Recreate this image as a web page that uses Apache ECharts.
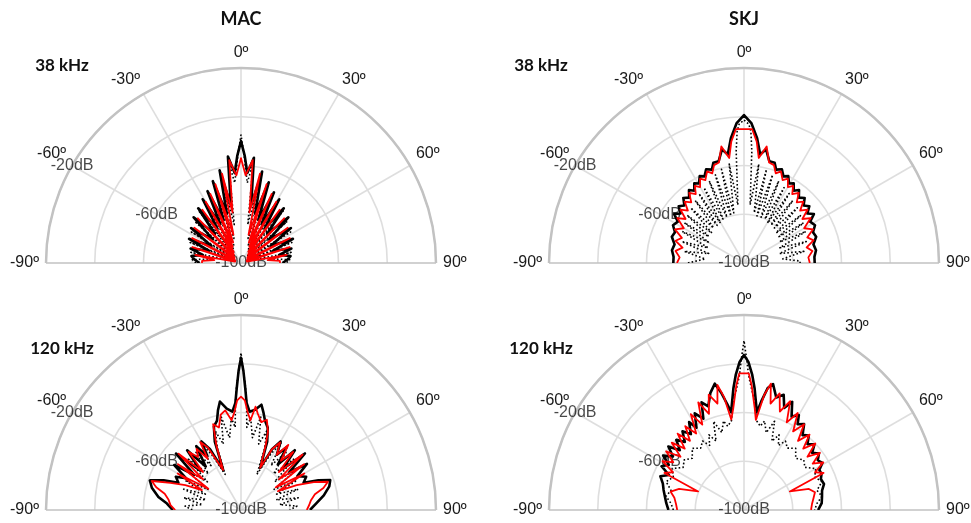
<!DOCTYPE html>
<html><head><meta charset="utf-8">
<script src="https://cdn.jsdelivr.net/npm/echarts@6/dist/echarts.min.js"></script>
<style>html,body{margin:0;padding:0;background:#fff}#c{width:971px;height:523px}</style>
</head><body><div id="c"></div>
<script>
// ---------- tick labels ----------
const angleTicks = [-90, -60, -30, 0, 30, 60, 90];
const radiusTickValues = [-20, -60, -100];
const radiusTickLabels = ['-20dB', '-60dB', '-100dB'];
const columnTitles = ['MAC', 'SKJ'];
const rowTitles = ['38 kHz', '120 kHz'];

// ---------- MAC 38 kHz ----------
const mac38BlackAng = [-90,-86,-82,-78,-74,-69,-65,-60,-55,-50,-46,-42,-38,-34.5,-31,-28,-25,-22,-19,-16,-13,-10,-7,-4,-2,0,2,4,7,10,13,16,19,22,25,28,31,34.5,38,42,46,50,55,60,65,69,74,78,82,86,90];
const mac38BlackDb  = [-83,-81,-79.5,-84,-78.5,-86,-76.5,-86,-75,-85,-73,-84,-71.5,-83,-69.5,-82,-67.5,-81,-64.5,-79,-61,-76,-56,-63,-56,-50,-56,-63,-56.5,-76,-61.5,-79,-65,-81,-68,-82,-69.5,-83,-71.5,-84,-73,-85,-75,-86,-76.5,-86,-78.5,-84,-79.5,-81,-83];
const mac38RedAng = [-90,-87,-84,-80,-76,-72,-68,-63,-58,-53,-48,-44,-40,-36,-33,-30,-27,-24,-21,-18,-15,-12,-9.5,-6.5,-3,0,3,6.5,9.5,12,15,18,21,24,27,30,33,36,40,44,48,53,58,63,68,72,76,80,84,87,90];
const mac38RedDb  = [-84,-84,-89,-81,-97.5,-79,-97.5,-77.5,-97,-76,-96.5,-74.5,-95.5,-73,-94.5,-71,-92.5,-69,-91,-66,-88,-62.5,-79,-57.5,-64,-57,-64,-57.5,-79,-62.5,-88,-66,-91,-69,-92.5,-71,-94.5,-73,-95.5,-74.5,-96.5,-76,-97,-77.5,-97.5,-79,-97.5,-81,-89,-84,-84];
const mac38DotAng = [-90,-86,-82,-78,-73,-68,-63,-58,-53,-48,-43,-39,-35,-31,-28,-25,-22,-19,-16,-13,-10,-7,-4.5,-1.5,0,1.5,4.5,7,10,13,16,19,22,25,28,31,35,39,43,48,53,58,63,68,73,78,82,86,90];
const mac38DotDb  = [-81.5,-80,-88,-79,-97,-77.5,-97,-76,-96.5,-74.5,-96,-72.5,-95,-70.5,-93.5,-68,-92,-65,-89.5,-62,-84,-58,-67,-55,-47.5,-55,-67,-58,-84,-62,-89.5,-65,-92,-68,-93.5,-70.5,-95,-72.5,-96,-74.5,-96.5,-76,-97,-77.5,-97,-79,-88,-80,-81.5];

// ---------- SKJ 38 kHz ----------
const skj38BlackAng = [-90,-85,-80,-75,-70,-66,-62,-58,-55,-52,-49,-46,-43,-40,-37,-34.5,-32,-29.5,-27,-24.5,-22,-19,-17,-14,-11,-8.5,-6,-3,0,3,6,8.5,11,14,17,19,22,24.5,27,29.5,32,34.5,37,40,43,46,49,52,55,58,62,66,70,75,80,85,90];
const skj38BlackDb  = [-71,-71,-70,-70.5,-68.5,-69,-67,-68,-65,-67,-64.5,-66,-63.5,-65,-62.5,-64,-61.5,-62.5,-60,-61,-58.5,-59.5,-57,-57,-52.5,-55,-48.5,-42.5,-39.3,-42.5,-48.5,-55,-52.5,-57,-57,-59.5,-58.5,-61,-60,-62.5,-61.5,-64,-62.5,-65,-63.5,-66,-64.5,-67,-65,-68,-67,-69,-68.5,-70.5,-70,-71,-71];
const skj38RedAng = [-90,-85,-80,-76,-72,-68,-64,-60,-56,-53,-50,-47,-44,-41,-38,-35,-32.5,-30,-27.5,-25,-22,-19.5,-17,-14,-11,-8,-6,-3.5,3.5,6,8,11,14,17,19.5,22,25,27.5,30,32.5,35,38,41,44,47,50,53,56,60,64,68,72,76,80,85,90];
const skj38RedDb  = [-72.5,-73.5,-71.5,-74,-70.5,-72.5,-68.5,-71.5,-67,-70,-66,-68.5,-65,-67,-63.5,-65.5,-62.5,-64,-61,-62.5,-59.5,-61,-58,-57.5,-51.3,-56.5,-50,-45,-45,-50,-56.5,-51.3,-57.5,-58,-61,-59.5,-62.5,-61,-64,-62.5,-65.5,-63.5,-67,-65,-68.5,-66,-70,-67,-71.5,-68.5,-72,-70,-73.5,-71.5,-73.5,-73];
const skj38DotAng = [-90,-88,-84,-79,-75,-71,-67,-63,-59.5,-56,-53,-50,-47,-44,-41,-38,-35.5,-33,-30.5,-28,-25.5,-23,-20.5,-18,-15.5,-13.5,-11.5,-8.5,-6,-4,-3,-2,0,2,3,4,6,8.5,11.5,13.5,15.5,18,20.5,23,25.5,28,30.5,33,35.5,38,41,44,47,50,53,56,59.5,63,67,71,75,79,84,88,90];
const skj38DotDb  = [-77,-77,-84,-75,-85,-73,-84,-71.5,-83,-70.5,-82,-69.5,-82,-68.5,-81,-67.5,-81,-66,-81,-65,-80,-63.5,-80,-62,-80,-60.5,-79,-59,-76,-54,-46,-43,-41.3,-43,-46,-54,-76,-59,-79,-60.5,-80,-62,-80,-63.5,-80,-65,-81,-66,-81,-67.5,-81,-68.5,-82,-69.5,-82,-70.5,-83,-71.5,-84,-73,-85,-75,-84,-77,-77];

// ---------- MAC 120 kHz ----------
const mac120BlackAng = [-90,-85,-81,-76,-72,-69,-66.5,-63,-60,-56,-53,-49,-46,-42,-39,-35,-32,-30,-27,-24,-21,-18,-15,-13,-11,-8,-5,-3,-2,-1,0,1,2,3,5,8,11,13,15,18,21,24.5,27,30,33,36,39,42,45.5,48.5,52,55,59,63,66.5,69,71.5,75,80,85,90];
const mac120BlackDb  = [-72,-69.5,-65.7,-62.3,-60.7,-66,-72,-70,-74,-67,-76,-64.7,-77,-67,-77,-68,-74,-67.5,-72,-82,-70,-64,-62,-58,-54.7,-58,-59.5,-56,-50,-43,-37.5,-43,-50,-56,-59.5,-58.5,-56,-59,-62,-64.5,-70,-81,-72,-67.5,-73,-68,-76,-67,-76,-65,-75,-67,-73,-70,-72,-66,-61.4,-62.5,-65.5,-69,-71.7];
const mac120RedAng = [-90,-86,-82,-78,-75,-72,-69,-66,-63,-60,-57,-54,-51,-48,-45,-42,-39,-36,-33,-31,-28,-24,-21,-18,-15,-12,-9,-6,-4,-2,0,2,4,6,8,10,13,16,19,21,24.5,27,30,33,36,39,42,45,48,51,54,57,60,63,66,69,72,75,78,82,86,90];
const mac120RedDb  = [-73,-71,-70,-68,-64,-61.5,-69,-75,-82,-70,-84,-68,-80,-65.5,-78,-68,-72,-69,-75,-67.5,-71,-82,-72,-63,-65,-60,-58.6,-63,-60,-55,-53.5,-55,-60,-63,-57.2,-60,-63,-61.5,-66,-72,-81,-72,-68,-73,-67,-74,-68,-78,-66,-80,-68,-83,-70,-83,-75,-68,-62.5,-65,-69,-71,-72,-73];
const mac120DotAng = [-90,-86,-82,-78,-74,-70,-66,-62,-58,-54,-50,-46,-42,-38,-34,-31,-28,-24,-21,-18,-15,-12,-9,-6,-4,-3,-2,-1,0,1,2,3,4,6,9,12,15,18,21,24,28,31,34,38,42,46,50,54,58,62,66,70,74,78,82,86,90];
const mac120DotDb  = [-80,-77,-84,-76,-85,-75,-84,-74,-84,-72,-82,-70,-80,-70,-78,-68,-74,-84,-73,-66,-72,-61,-70,-62,-66,-56,-49,-43,-35.5,-43,-49,-56,-66,-62,-70,-61,-72,-66,-73,-84,-74,-68,-78,-70,-80,-70,-82,-72,-84,-74,-84,-75,-85,-76,-84,-77,-80];

// ---------- SKJ 120 kHz ----------
const skj120BlackAng = [-90,-85,-80,-76,-72,-68,-65,-62,-59,-56,-53,-50,-47,-44,-41,-38,-35,-32,-30,-27,-24,-21.5,-19,-16,-13,-11,-9,-7.5,-5,-3.5,-1.7,0,1.7,3.5,5,7.5,9,11,13,16,19,21.5,24,27,30,32,35,38,41,44,47,50,53,56,59,62,65,68,72,76,80,85,90];
const skj120BlackDb  = [-69,-68,-67,-66,-65,-63,-66,-61.7,-64,-60,-63.5,-59.5,-64,-60,-63,-59,-62,-57.5,-61,-55.5,-59,-52.5,-55,-50,-46.8,-51,-56,-59.5,-50,-44.5,-39.2,-36.4,-39.2,-44.5,-50,-59.5,-55,-49,-47,-52,-50,-55,-51.4,-57,-55,-58.5,-57,-61,-59.5,-62.5,-60.5,-63.5,-61.5,-63.5,-62.5,-65,-64.9,-66,-65.5,-67,-67.5,-68,-69.6];
const skj120RedAng = [-90,-85,-80,-76,-72,-68,-65,-62,-59,-56,-53,-50,-47,-44,-41,-38,-35,-32,-29,-26,-23,-20,-17,-14,-12,-10,-8,-6,-3.5,-2,2,3.5,6,7.5,10,12,14,17,20,23,26,29,32,35,38,41,44,47,50,53,56,59,62,65,68,72,76,80,85,90];
const skj120RedDb  = [-72.6,-72,-71,-69,-72,-79.7,-64,-67,-61,-65,-60,-66,-59.5,-65,-58.5,-64,-58,-63,-55,-61,-52,-58,-50.5,-55,-47.5,-53,-62.5,-58,-48.7,-43.9,-43.9,-48.7,-58,-62.7,-52,-47,-55,-50,-57,-51.5,-60,-54.5,-62,-57,-64,-59,-65,-60,-66,-61,-66,-62,-67,-64,-79.7,-72,-70,-71,-72,-72.5];
const skj120DotAng = [-90,-85,-80,-75,-70,-65,-60,-55,-50,-45,-40,-35,-31,-28,-25,-22,-19,-16,-13,-11,-8,-5.5,-3.5,-2,-1,0,1,2,3.5,5.5,8,11,13,16,19,22,25,28,31,35,40,45,50,55,60,65,70,75,80,85,90];
const skj120DotDb  = [-71,-70,-67.5,-69,-66,-68,-66,-69.5,-68,-70,-67,-69,-67,-70,-66,-69.5,-61.5,-67,-62.5,-65,-63,-55,-50,-45,-38,-30.5,-38,-45,-50,-55,-63,-65,-62.5,-67,-61.5,-69.5,-66,-70,-67,-69,-67,-70,-68,-69.5,-66,-68,-66,-69,-67.5,-70,-71];

// ---------- layout ----------
const R = 195;
const panels = [
  {center:[241,263], title:0, row:0, sets:[[mac38BlackAng,mac38BlackDb],[mac38DotAng,mac38DotDb],[mac38RedAng,mac38RedDb]], rowX:62},
  {center:[744,263], title:1, row:0, sets:[[skj38BlackAng,skj38BlackDb],[skj38DotAng,skj38DotDb],[skj38RedAng,skj38RedDb]], rowX:541},
  {center:[241,510], title:null, row:1, sets:[[mac120BlackAng,mac120BlackDb],[mac120DotAng,mac120DotDb],[mac120RedAng,mac120RedDb]], rowX:62},
  {center:[744,510], title:null, row:1, sets:[[skj120BlackAng,skj120BlackDb],[skj120DotAng,skj120DotDb],[skj120RedAng,skj120RedDb]], rowX:541}
];
const styles = [
  {color:'#000000', width:2.6, type:'solid', z:3},
  {color:'#000000', width:1.6, type:[1.6,2.2], z:4},
  {color:'#ff0000', width:1.8, type:'solid', z:5}
];
const zip = (ang, db) => ang.map((a, i) => [db[i], a]);
const FONT = '"Liberation Sans", Arial, sans-serif';

const polar = [], angleAxis = [], radiusAxis = [], series = [], graphic = [];
panels.forEach((p, i) => {
  polar.push({center: p.center, radius: R});
  angleAxis.push({
    polarIndex: i, type: 'value', min: angleTicks[0], max: angleTicks[angleTicks.length-1], interval: 30,
    startAngle: 180, endAngle: 0, clockwise: true,
    axisLine: {show: true, lineStyle: {color: '#c2c2c2', width: 2.5}},
    axisTick: {show: false},
    axisLabel: {show: true, formatter: v => v + 'º', color: '#1a1a1a', fontSize: 16, fontFamily: FONT, margin: 7},
    splitLine: {show: true, lineStyle: {color: ['#c2c2c2','#dedede','#dedede','#dedede','#dedede','#dedede','#c2c2c2'], width: 1.6}}
  });
  radiusAxis.push({
    polarIndex: i, type: 'value', min: -100, max: -20, interval: 20,
    axisLine: {show: false}, axisTick: {show: false}, axisLabel: {show: false},
    splitLine: {show: true, lineStyle: {color: '#dedede', width: 1.6}}
  });
  series.push({
    type: 'scatter', coordinateSystem: 'polar', polarIndex: i, silent: true, z: 1,
    symbolSize: 1, itemStyle: {color: 'rgba(0,0,0,0)'},
    data: radiusTickValues.map(v => [v, -60]),
    label: {show: true, position: 'inside', formatter: q => radiusTickLabels[q.dataIndex],
            color: '#1a1a1a', fontSize: 16, fontFamily: FONT}
  });
  p.sets.forEach((s, k) => {
    const st = styles[k];
    series.push({
      type: 'line', coordinateSystem: 'polar', polarIndex: i, silent: true, z: st.z,
      showSymbol: false, symbol: 'none', smooth: false,
      data: zip(s[0], s[1]),
      lineStyle: {color: st.color, width: st.width, type: st.type, join: 'round'}
    });
  });
  if (p.title !== null) {
    graphic.push({type: 'text', x: p.center[0], y: 19,
      style: {text: columnTitles[p.title], font: 'bold 18px Lato, "Open Sans", sans-serif', fill: '#111', align: 'center', verticalAlign: 'middle'}});
  }
  graphic.push({type: 'text', x: p.rowX, y: p.row === 0 ? 66 : 349,
    style: {text: rowTitles[p.row], font: 'bold 17px Lato, "Open Sans", sans-serif', fill: '#111', align: 'center', verticalAlign: 'middle'}});
});

const chart = echarts.init(document.getElementById('c'));
chart.setOption({
  animation: false,
  backgroundColor: '#ffffff',
  polar, angleAxis, radiusAxis, series, graphic
});
</script>
</body></html>
